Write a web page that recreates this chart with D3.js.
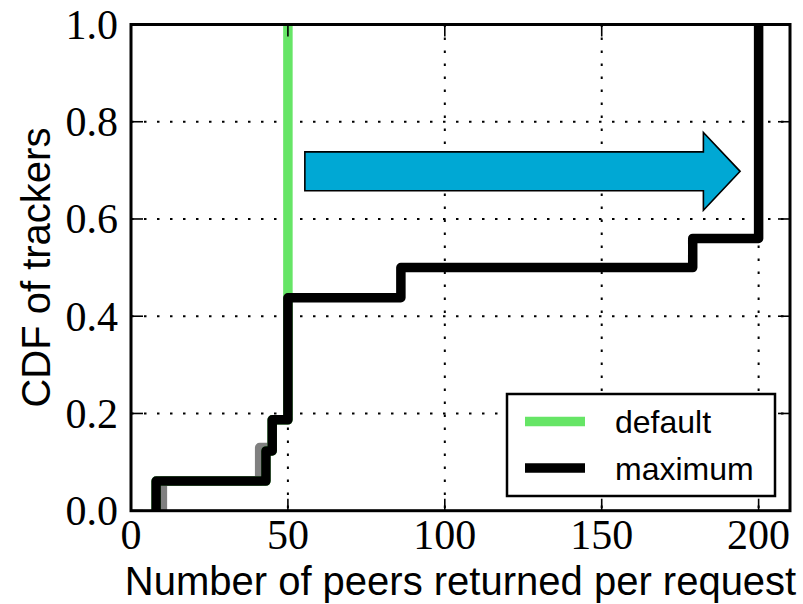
<!DOCTYPE html>
<html>
<head>
<meta charset="utf-8">
<script src="https://cdn.jsdelivr.net/npm/d3@7"></script>
<style>
  html, body { margin: 0; padding: 0; background: #fff; }
  svg { display: block; }
</style>
</head>
<body>
<svg id="chart" width="803" height="604"></svg>
<script>
// ---- data ----
const xTicks = [0, 50, 100, 150, 200];
const yTicks = [0.0, 0.2, 0.4, 0.6, 0.8, 1.0];
const yTickLabels = ["0.0", "0.2", "0.4", "0.6", "0.8", "1.0"];
const xTickLabels = ["0", "50", "100", "150", "200"];

// underlying (grey) series, mostly hidden under the black one
const greyX = [10, 10, 41, 41, 45, 45, 50, 50];
const greyY = [0, 0.061, 0.061, 0.13, 0.13, 0.187, 0.187, 0.438];

// default
const defaultX = [8, 8, 43, 43, 45, 45, 50, 50];
const defaultY = [0, 0.061, 0.061, 0.123, 0.123, 0.187, 0.187, 1.0];

// maximum
const maxX = [8, 8, 43, 43, 45, 45, 50, 50, 86, 86, 179, 179, 200, 200];
const maxY = [0, 0.061, 0.061, 0.123, 0.123, 0.187, 0.187, 0.438, 0.438, 0.5, 0.5, 0.56, 0.56, 1.0];

const seriesNames = ["default", "maximum"];

// arrow annotation (data coords)
const arrowStart = [55.4, 0.698];
const arrowEnd = [194.1, 0.698];
const arrowHeadStart = 182.4;
const arrowShaftHalf = 0.04;
const arrowHeadHalf = 0.08;

// ---- layout ----
(function () {
const svg = d3.select("#chart");
const W = 803, H = 604;
const pL = 131, pR = 790, pT = 24.5, pB = 510.7;

svg.append("rect").attr("width", W).attr("height", H).attr("fill", "#fff");

const x = d3.scaleLinear().domain([0, 210]).range([pL, pR]);
const y = d3.scaleLinear().domain([0, 1]).range([pB, pT]);

svg.append("defs").append("clipPath").attr("id", "clip")
  .append("rect").attr("x", pL).attr("y", pT)
  .attr("width", pR - pL).attr("height", pB - pT);

// grid
const grid = svg.append("g");
grid.selectAll("line.gx").data(xTicks.filter(d => d > 0)).enter().append("line")
  .attr("x1", d => x(d)).attr("x2", d => x(d))
  .attr("y1", pT).attr("y2", pB)
  .attr("stroke", "#000").attr("stroke-width", 2)
  .attr("stroke-dasharray", "2.5,10.5");
grid.selectAll("line.gy").data(yTicks.filter(d => d > 0 && d < 1)).enter().append("line")
  .attr("y1", d => y(d)).attr("y2", d => y(d))
  .attr("x1", pL).attr("x2", pR)
  .attr("stroke", "#000").attr("stroke-width", 2)
  .attr("stroke-dasharray", "2.5,10.5");

// lines
const plot = svg.append("g").attr("clip-path", "url(#clip)");
const line = d3.line().x(d => x(d[0])).y(d => y(d[1]));
function addLine(xs, ys, color) {
  plot.append("path")
    .attr("d", line(xs.map((v, i) => [v, ys[i]])))
    .attr("fill", "none").attr("stroke", color)
    .attr("stroke-width", 9.5)
    .attr("stroke-linejoin", "round")
    .attr("stroke-linecap", "butt");
}
addLine(greyX, greyY, "#808080");
addLine(defaultX, defaultY, "#66e566");
addLine(maxX, maxY, "#000000");

// arrow
const arrowPts = [
  [arrowStart[0], arrowStart[1] + arrowShaftHalf],
  [arrowHeadStart, arrowStart[1] + arrowShaftHalf],
  [arrowHeadStart, arrowStart[1] + arrowHeadHalf],
  [arrowEnd[0], arrowEnd[1]],
  [arrowHeadStart, arrowStart[1] - arrowHeadHalf],
  [arrowHeadStart, arrowStart[1] - arrowShaftHalf],
  [arrowStart[0], arrowStart[1] - arrowShaftHalf]
];
svg.append("path")
  .attr("d", line(arrowPts) + "Z")
  .attr("fill", "#00a8d4").attr("stroke", "#000").attr("stroke-width", 1.6)
  .attr("stroke-linejoin", "miter");

// ticks (inward, all four sides)
const tl = 12;
const ticks = svg.append("g").attr("stroke", "#000").attr("stroke-width", 1.6);
xTicks.forEach(t => {
  ticks.append("line").attr("x1", x(t)).attr("x2", x(t)).attr("y1", pB).attr("y2", pB - tl);
  ticks.append("line").attr("x1", x(t)).attr("x2", x(t)).attr("y1", pT).attr("y2", pT + tl);
});
yTicks.forEach(t => {
  ticks.append("line").attr("y1", y(t)).attr("y2", y(t)).attr("x1", pL).attr("x2", pL + tl);
  ticks.append("line").attr("y1", y(t)).attr("y2", y(t)).attr("x1", pR).attr("x2", pR - tl);
});

// frame
svg.append("rect").attr("x", pL).attr("y", pT)
  .attr("width", pR - pL).attr("height", pB - pT)
  .attr("fill", "none").attr("stroke", "#000").attr("stroke-width", 3);

// tick labels
const tickFont = "'Liberation Serif', 'Times New Roman', serif";
svg.append("g").selectAll("text").data(xTicks).enter().append("text")
  .attr("x", d => x(d)).attr("y", 549)
  .attr("text-anchor", "middle")
  .attr("font-family", tickFont).attr("font-size", 42)
  .text((d, i) => xTickLabels[i]);
svg.append("g").selectAll("text").data(yTicks).enter().append("text")
  .attr("x", 118).attr("y", d => y(d))
  .attr("dy", "0.34em")
  .attr("text-anchor", "end")
  .attr("font-family", tickFont).attr("font-size", 42)
  .text((d, i) => yTickLabels[i]);

// axis labels
const sans = "'Liberation Sans', Arial, Helvetica, sans-serif";
svg.append("text")
  .attr("x", (pL + pR) / 2).attr("y", 595)
  .attr("text-anchor", "middle")
  .attr("font-family", sans).attr("font-size", 40)
  .text("Number of peers returned per request");
svg.append("text")
  .attr("transform", `translate(50, ${(pT + pB) / 2}) rotate(-90)`)
  .attr("text-anchor", "middle")
  .attr("font-family", sans).attr("font-size", 40)
  .text("CDF of trackers");

// legend
const lg = svg.append("g");
lg.append("rect").attr("x", 507).attr("y", 394).attr("width", 268).attr("height", 102)
  .attr("fill", "#fff").attr("stroke", "#000").attr("stroke-width", 2.5);
const legColors = ["#66e566", "#000000"];
seriesNames.forEach((name, i) => {
  const ly = 421.5 + i * 46.5;
  lg.append("line").attr("x1", 525).attr("x2", 585).attr("y1", ly).attr("y2", ly)
    .attr("stroke", legColors[i]).attr("stroke-width", 9.5);
  lg.append("text").attr("x", 615).attr("y", ly + 11.5)
    .attr("font-family", sans).attr("font-size", 32)
    .text(name);
});
})();
</script>
</body>
</html>
